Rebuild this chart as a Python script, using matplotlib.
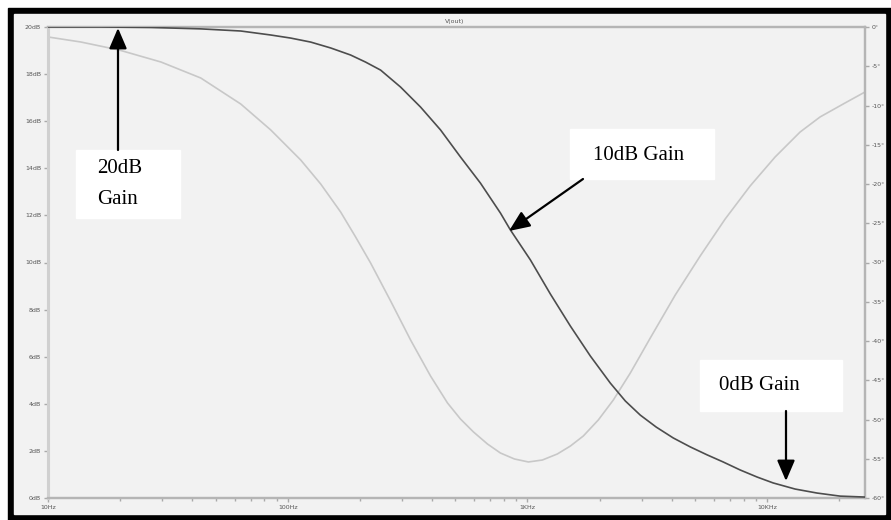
import numpy as np
import matplotlib.pyplot as plt
from matplotlib.patches import Rectangle, FancyArrowPatch

# frequency response
mag_freq = [10, 16.6, 26.9, 43.4, 63.7, 85.0, 102.9, 124.7, 151.1, 183.0, 211.3,
            244.1, 295.7, 358.3, 434.0, 525.8, 637.0, 771.7, 849.5, 1029, 1247,
            1511, 1830, 2217, 2561, 2957, 3448, 4058, 4778, 5623, 6557, 7720,
            9085, 10593, 13089, 16161, 20150, 25606]
mag_db = [20.0, 20.0, 19.98, 19.92, 19.83, 19.66, 19.53, 19.36, 19.11, 18.81,
          18.51, 18.17, 17.45, 16.60, 15.63, 14.48, 13.37, 12.10, 11.38, 10.11,
          8.66, 7.30, 6.03, 4.88, 4.12, 3.52, 3.01, 2.55, 2.17, 1.83, 1.53, 1.19,
          0.89, 0.64, 0.38, 0.21, 0.08, 0.04]

ph_freq = [10, 13.7, 19.8, 29.6, 43.4, 63.7, 85.0, 113.3, 137.3, 166.3, 192.0,
           221.7, 268.7, 325.5, 394.3, 464.2, 525.8, 595.7, 681.3, 771.7, 882.8,
           1009.7, 1154.8, 1333.5, 1511, 1711, 1976, 2282, 2687, 3255, 4138,
           5258, 6683, 8496, 10797, 13725, 16630, 21135, 25606]
ph_deg = [-1.27, -1.91, -2.93, -4.46, -6.50, -9.81, -13.12, -16.94, -20.0,
          -23.57, -26.75, -30.06, -34.90, -39.87, -44.46, -47.90, -49.94,
          -51.59, -53.12, -54.27, -55.03, -55.41, -55.16, -54.39, -53.38,
          -52.10, -50.06, -47.52, -44.08, -39.62, -34.14, -29.17, -24.46,
          -20.25, -16.56, -13.38, -11.46, -9.68, -8.28]

db_ticks = list(range(0, 21, 2))
db_labels = [f"{v}dB" for v in db_ticks]
deg_ticks = list(range(-60, 1, 5))
deg_labels = [f"{v}\u00b0" for v in deg_ticks]
hz_ticks = [10, 100, 1000, 10000]
hz_labels = ["10Hz", "100Hz", "1KHz", "10KHz"]

W, H = 891, 520


def fx(x):
    return x / W


def fy(y):
    return 1 - y / H


fig = plt.figure(figsize=(W / 100, H / 100), dpi=100, facecolor='white')

# black frame + grey panel
fig.patches.append(Rectangle((fx(8), 0), 1 - fx(8), fy(8), transform=fig.transFigure,
                             color='black', zorder=-2))
fig.patches.append(Rectangle((fx(14), fy(514)), fx(885) - fx(14), fy(14) - fy(514),
                             transform=fig.transFigure, color='#f2f2f2', zorder=-1))

ax = fig.add_axes([fx(48), fy(498), fx(865) - fx(48), fy(27) - fy(498)])
ax.set_xscale('log')
ax.set_xlim(10, 25606)
ax.set_ylim(0, 20)

ax.plot(mag_freq, mag_db, color='#4d4d4d', lw=1.2, zorder=3)

ax2 = ax.twinx()
ax2.set_ylim(-60, 0)
ax2.plot(ph_freq, ph_deg, color='#c8c8c8', lw=1.2, zorder=2)
# magnitude trace on top of the phase trace
ax.set_zorder(2)
ax.patch.set_visible(False)
ax2.set_zorder(1)
ax2.patch.set_visible(True)
ax2.patch.set_facecolor('#f2f2f2')

tick_kw = dict(colors='#aaaaaa', labelcolor='#555555', labelsize=4.5, length=3, width=1)
ax.set_yticks(db_ticks)
ax.set_yticklabels(db_labels)
ax.set_xticks(hz_ticks)
ax.set_xticklabels(hz_labels)
ax.tick_params(axis='both', which='major', pad=2, **tick_kw)
ax.tick_params(axis='x', which='minor', colors='#aaaaaa', length=2, width=1)
ax2.set_yticks(deg_ticks)
ax2.set_yticklabels(deg_labels)
ax2.tick_params(axis='y', pad=2, **tick_kw)

for a in (ax, ax2):
    for side in ('top', 'right', 'bottom'):
        a.spines[side].set_color('#b5b5b5')
        a.spines[side].set_linewidth(1.6)
    a.spines['left'].set_color('#d0d0d0')
    a.spines['left'].set_linewidth(2.2)

fig.text(fx(455), fy(21), "V(out)", fontsize=4.5, color='#555555', ha='center', va='center',
         bbox=dict(facecolor='#f2f2f2', edgecolor='none', pad=0.5), zorder=5)

# annotation boxes
serif = 'Liberation Serif'
boxes = [(76, 150, 180, 218), (570, 129, 714, 179), (700, 360, 842, 411)]
for x0, y0, x1, y1 in boxes:
    fig.patches.append(Rectangle((fx(x0), fy(y1)), fx(x1) - fx(x0), fy(y0) - fy(y1),
                                 transform=fig.transFigure, color='white', zorder=6))

fig.text(fx(97), fy(184), "20dB\nGain", fontsize=15, family=serif, ha='left', va='center',
         linespacing=1.85, zorder=7)
fig.text(fx(593), fy(155), "10dB Gain", fontsize=15, family=serif, ha='left', va='center', zorder=7)
fig.text(fx(719), fy(386), "0dB Gain", fontsize=15, family=serif, ha='left', va='center', zorder=7)

arrows = [((118, 150), (118, 28)), ((583, 179), (509, 231)), ((786, 411), (786, 481))]
for (x0, y0), (x1, y1) in arrows:
    fig.add_artist(FancyArrowPatch((fx(x0), fy(y0)), (fx(x1), fy(y1)), transform=fig.transFigure,
                                   arrowstyle='-|>,head_length=0.7,head_width=0.3', mutation_scale=18,
                                   color='black', lw=1.6, shrinkA=0, shrinkB=0, zorder=8))

fig.savefig('out.png', dpi=100, facecolor='white')
